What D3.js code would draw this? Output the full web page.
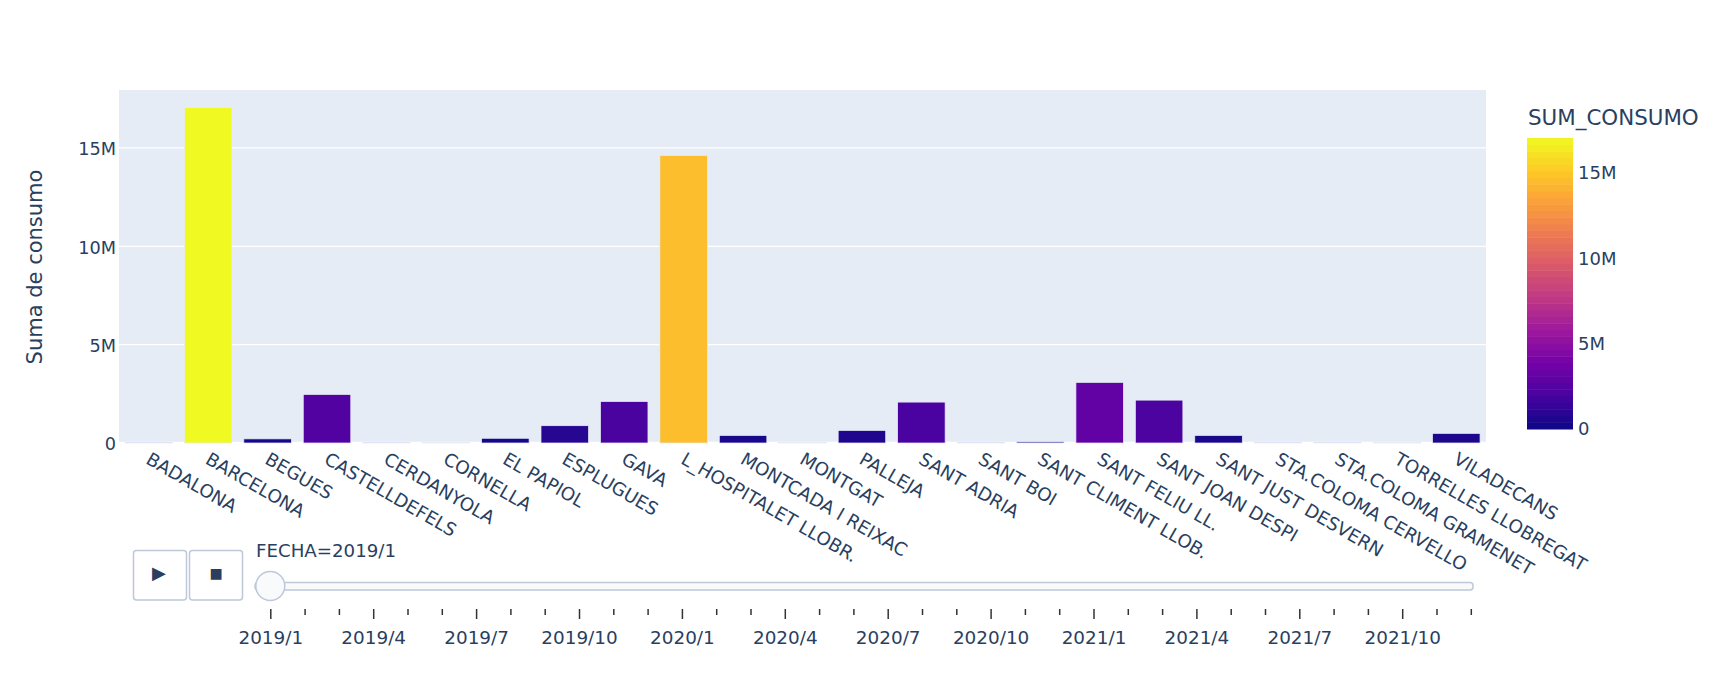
<!DOCTYPE html>
<html>
<head>
<meta charset="utf-8">
<script src="https://cdn.jsdelivr.net/npm/d3@7"></script>
<style>
body { margin: 0; background: #fff; }
svg { display: block; }
text { font-family: "DejaVu Sans", Verdana, sans-serif; fill: #2a3f5f; }
.axis path, .axis line { stroke: none; }
</style>
</head>
<body>
<svg width="1733" height="674"></svg>
<script>
// data for the first frame, FECHA=2019/1
var municipios = ["BADALONA", "BARCELONA", "BEGUES", "CASTELLDEFELS", "CERDANYOLA", "CORNELLA",
  "EL PAPIOL", "ESPLUGUES", "GAVA", "L_HOSPITALET LLOBR.", "MONTCADA I REIXAC", "MONTGAT", "PALLEJA",
  "SANT ADRIA", "SANT BOI", "SANT CLIMENT LLOB.", "SANT FELIU LL.", "SANT JOAN DESPI",
  "SANT JUST DESVERN", "STA.COLOMA CERVELLO", "STA.COLOMA GRAMENET", "TORRELLES LLOBREGAT", "VILADECANS"];
var consumo = [8000, 17050000, 210000, 2470000, 8000, 30000,
  240000, 880000, 2110000, 14620000, 386000, 30000, 640000,
  2080000, 8000, 60000, 3080000, 2180000,
  386000, 8000, 8000, 30000, 490000];
var yTicks = [0, 5000000, 10000000, 15000000];
var fechas = ["2019/1", "2019/2", "2019/3", "2019/4", "2019/5", "2019/6", "2019/7", "2019/8", "2019/9", "2019/10", "2019/11", "2019/12",
  "2020/1", "2020/2", "2020/3", "2020/4", "2020/5", "2020/6", "2020/7", "2020/8", "2020/9", "2020/10", "2020/11", "2020/12",
  "2021/1", "2021/2", "2021/3", "2021/4", "2021/5", "2021/6", "2021/7", "2021/8", "2021/9", "2021/10", "2021/11", "2021/12"];
var plasma = ["#0d0887", "#46039f", "#7201a8", "#9c179e", "#bd3786", "#d8576b", "#ed7953", "#fb9f3a", "#fdca26", "#f0f921"];

var svg = d3.select("svg"),
margin = {top: 90, right: 247, bottom: 231, left: 119},
width = +svg.attr("width") - margin.left - margin.right,
height = +svg.attr("height") - margin.top - margin.bottom;

var maxConsumo = d3.max(consumo);

var x = d3.scaleBand().domain(municipios).range([0, width]).paddingInner(0.2).paddingOuter(0.1),
y = d3.scaleLinear().domain([0, maxConsumo * 1.0526]).range([height, 0]);

var color = d3.scaleLinear()
  .domain(plasma.map(function(d, i) { return i / (plasma.length - 1) * maxConsumo; }))
  .range(plasma);

var g = svg.append("g")
  .attr("transform", "translate(" + margin.left + "," + margin.top + ")");

g.append("rect")
  .attr("width", width)
  .attr("height", height - 1)
  .attr("fill", "#e5ecf6");

// gridlines
g.selectAll(".grid")
  .data(yTicks)
  .enter().append("line")
  .attr("class", "grid")
  .attr("x2", width)
  .attr("y1", function(d) { return y(d); })
  .attr("y2", function(d) { return y(d); })
  .attr("stroke", "#fff")
  .attr("stroke-width", function(d) { return d === 0 ? 2.5 : 1.3; });

// bars
g.selectAll(".bar")
  .data(consumo)
  .enter().append("rect")
  .attr("class", "bar")
  .attr("x", function(d, i) { return x(municipios[i]); })
  .attr("y", function(d) { return y(d); })
  .attr("width", x.bandwidth())
  .attr("height", function(d) { return height - y(d); })
  .attr("fill", function(d) { return color(d); })
  .attr("stroke", "#e5ecf6")
  .attr("stroke-width", 0.75);

// Y axis
g.append("g")
  .attr("class", "axis")
  .call(d3.axisLeft(y).tickValues(yTicks).tickSize(0).tickPadding(3)
    .tickFormat(function(d) { return d === 0 ? "0" : d / 1000000 + "M"; }))
  .call(function(a) { a.select(".domain").remove(); })
  .selectAll("text")
  .attr("dy", "0.38em")
  .style("font-size", "17.7px");

// X axis
g.append("g")
  .attr("class", "axis")
  .attr("transform", "translate(0," + height + ")")
  .call(d3.axisBottom(x).tickSize(0))
  .call(function(a) { a.select(".domain").remove(); })
  .selectAll("text")
  .style("font-size", "18.2px")
  .style("text-anchor", "start")
  .attr("x", -4)
  .attr("y", 10)
  .attr("dy", "0.71em")
  .attr("transform", "translate(11,2) rotate(30)");

svg.append("text")
  .attr("transform", "translate(42,267) rotate(-90)")
  .attr("text-anchor", "middle")
  .style("font-size", "21px")
  .text("Suma de consumo");

// colorbar
var cbX = 1527, cbW = 46, cbTop = 138, cbBottom = 429;
var cy = d3.scaleLinear().domain([0, maxConsumo]).range([cbBottom, cbTop]);
var steps = d3.range(0, 44);

svg.selectAll(".cb")
  .data(steps)
  .enter().append("rect")
  .attr("class", "cb")
  .attr("x", cbX)
  .attr("width", cbW)
  .attr("y", function(d) { return cy((d + 1) / steps.length * maxConsumo); })
  .attr("height", function() { return (cbBottom - cbTop) / steps.length + 0.5; })
  .attr("fill", function(d) { return color((d + 0.5) / steps.length * maxConsumo); });

svg.append("g")
  .attr("class", "axis")
  .attr("transform", "translate(" + (cbX + cbW) + ",0)")
  .call(d3.axisRight(cy).tickValues(yTicks).tickSize(0).tickPadding(5)
    .tickFormat(function(d) { return d === 0 ? "0" : d / 1000000 + "M"; }))
  .call(function(a) { a.select(".domain").remove(); })
  .selectAll("text")
  .style("font-size", "18px");

svg.append("text")
  .attr("x", 1528)
  .attr("y", 125)
  .style("font-size", "21.4px")
  .text("SUM_CONSUMO");

// play and stop buttons
var buttons = [{label: "\u25B6", x: 133.5, w: 53, size: 18, base: 579, shift: -1}, {label: "\u25A0", x: 189.5, w: 53, size: 14, base: 578, shift: 0}];
var btn = svg.selectAll(".btn")
  .data(buttons)
  .enter().append("g")
  .attr("class", "btn");
btn.append("rect")
  .attr("x", function(d) { return d.x; })
  .attr("y", 550.5)
  .attr("width", function(d) { return d.w; })
  .attr("height", 49.5)
  .attr("rx", 3)
  .attr("fill", "#fff")
  .attr("stroke", "#bec8d9")
  .attr("stroke-width", 1.5);
btn.append("text")
  .attr("x", function(d) { return d.x + d.w / 2 + d.shift; })
  .attr("y", function(d) { return d.base; })
  .attr("text-anchor", "middle")
  .style("font-size", function(d) { return d.size + "px"; })
  .text(function(d) { return d.label; });

// slider
var sx = d3.scalePoint().domain(fechas).range([270.3, 1470.8]);

svg.append("rect")
  .attr("x", 255)
  .attr("y", 582.5)
  .attr("width", 1218)
  .attr("height", 7.5)
  .attr("rx", 3)
  .attr("fill", "#f8fafc")
  .attr("stroke", "#bec8d9")
  .attr("stroke-width", 1.5);

var sliderAxis = svg.append("g")
  .attr("transform", "translate(0,609)")
  .call(d3.axisBottom(sx).tickSize(10).tickPadding(12)
    .tickFormat(function(d, i) { return i % 3 === 0 ? d : ""; }));
sliderAxis.select(".domain").remove();
sliderAxis.selectAll("line")
  .attr("stroke", "#333")
  .attr("stroke-width", 1.5)
  .attr("y2", function(d, i) { return i % 3 === 0 ? 10 : 6; });
sliderAxis.selectAll("text")
  .style("font-size", "18.4px")
  .style("font-family", "\"DejaVu Sans\", Verdana, sans-serif")
  .style("fill", "#2a3f5f");

svg.append("circle")
  .attr("cx", sx(fechas[0]))
  .attr("cy", 586)
  .attr("r", 14.5)
  .attr("fill", "#f8fafc")
  .attr("stroke", "#bec8d9")
  .attr("stroke-width", 1.5);

svg.append("text")
  .attr("x", 256)
  .attr("y", 557)
  .style("font-size", "18.2px")
  .text("FECHA=" + fechas[0]);
</script>
</body>
</html>
